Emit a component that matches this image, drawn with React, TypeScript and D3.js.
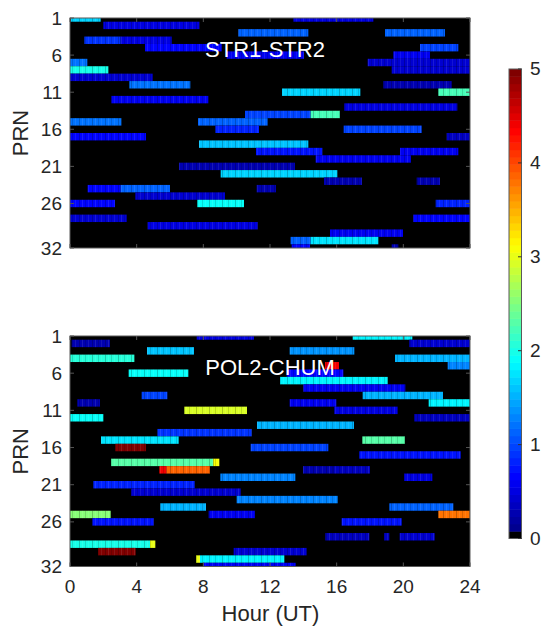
import * as d3 from 'd3';

const prnTicks = [1, 6, 11, 16, 21, 26, 32];
const hourTicks = [0, 4, 8, 12, 16, 20, 24];
const cbarTicks = [0, 1, 2, 3, 4, 5];

// [PRN, start hour, end hour, value]
const str1Str2: number[][] = [
  [1, 0.06, 1.84, 1.7], [1, 13.4, 18.2, 0.5],
  [2, 2.0, 7.76, 0.5],
  [3, 10.1, 14.3, 1.1], [3, 18.9, 22.5, 1.1],
  [4, 0.86, 3.04, 0.9], [4, 3.04, 6.1, 0.5],
  [5, 4.5, 9.1, 0.65], [5, 21.0, 23.3, 1.0],
  [6, 9.4, 14.04, 0.55], [6, 19.4, 21.6, 0.6],
  [7, 0, 1.04, 1.2], [7, 17.86, 24, 0.45],
  [8, 0, 2.3, 2.0], [8, 19.3, 24, 0.4],
  [9, 0, 4.96, 0.45],
  [10, 3.56, 7.22, 1.2], [10, 18.8, 22.9, 0.25],
  [11, 12.72, 17.42, 1.7], [11, 22.1, 24, 2.2],
  [12, 2.48, 8.3, 0.55],
  [13, 16.46, 23.24, 0.5],
  [14, 10.5, 14.44, 1.0], [14, 14.44, 16.2, 2.2],
  [15, 0, 3.08, 1.2], [15, 7.68, 11.86, 1.1],
  [16, 8.72, 11.34, 0.8], [16, 16.42, 21.1, 0.95],
  [17, 0, 4.56, 0.7], [17, 22.6, 24, 0.35],
  [18, 7.74, 14.3, 1.6],
  [19, 11.16, 15.14, 0.75], [19, 19.8, 23.3, 0.55],
  [20, 14.74, 20.46, 0.55],
  [21, 6.54, 13.5, 0.25],
  [22, 9.04, 16.04, 1.65],
  [23, 15.24, 17.52, 0.3], [23, 20.8, 22.2, 0.3],
  [24, 1.06, 3.04, 0.7], [24, 3.04, 6.0, 1.15], [24, 11.2, 12.36, 0.3],
  [25, 3.92, 9.3, 0.45],
  [26, 0, 2.7, 0.7], [26, 7.64, 10.44, 1.95], [26, 21.94, 24, 0.85],
  [28, 0, 3.4, 0.4], [28, 20.6, 24, 0.7],
  [29, 4.66, 11.26, 0.5],
  [30, 15.6, 19.98, 0.55],
  [31, 13.24, 14.44, 1.1], [31, 14.44, 18.5, 1.75],
  [32, 13.3, 14.4, 0.7], [32, 19.3, 19.7, 0.3],
];

const pol2Chum: number[][] = [
  [1, 7.6, 11.04, 0.5], [1, 16.96, 20.54, 1.85],
  [2, 0.1, 2.4, 0.25], [2, 20.36, 24, 0.4],
  [3, 4.62, 7.44, 1.6], [3, 13.18, 17.06, 1.4],
  [4, 0, 3.86, 2.1], [4, 19.5, 24, 1.5],
  [5, 15.3, 16.14, 4.4], [5, 22.66, 24, 1.3],
  [6, 3.52, 7.1, 1.9], [6, 13, 16.4, 0.65],
  [7, 12.6, 19.06, 1.85],
  [8, 14, 20.12, 0.55],
  [9, 4.3, 5.84, 1.0], [9, 17.56, 22.38, 1.5],
  [10, 0.44, 1.8, 0.25], [10, 13.18, 15.98, 0.55], [10, 21.52, 24, 1.8],
  [11, 6.86, 10.62, 2.9], [11, 15.86, 19.66, 0.5],
  [12, 0, 2.0, 1.9], [12, 20.66, 24, 0.35],
  [13, 11.22, 17.04, 1.55],
  [14, 5.24, 10.9, 0.9],
  [15, 1.86, 6.52, 1.75], [15, 17.54, 20.1, 2.3],
  [16, 2.72, 4.56, 5], [16, 10.84, 15.5, 1.0],
  [17, 17.36, 23.44, 0.75],
  [18, 2.46, 8.6, 2.3], [18, 8.6, 8.96, 3.1],
  [19, 5.36, 5.8, 4.4], [19, 5.8, 8.4, 3.9], [19, 13.98, 15.8, 0.25], [19, 15.8, 18, 0.35],
  [20, 9.02, 13.52, 1.3], [20, 20.04, 21.74, 0.5],
  [21, 1.4, 7.48, 0.85],
  [22, 3.66, 10.24, 0.45],
  [23, 10, 16.06, 1.3],
  [24, 5.42, 8.16, 1.55], [24, 19.16, 23, 1.1],
  [25, 0, 2.44, 2.5], [25, 8.32, 11.1, 0.55], [25, 22.1, 24, 3.8],
  [26, 1.34, 5.02, 0.75], [26, 16.3, 19.9, 0.75],
  [28, 15.32, 17.96, 0.35], [28, 18.84, 19.16, 0.35], [28, 19.78, 21.88, 0.4],
  [29, 0, 4.8, 2.0], [29, 4.8, 5.12, 3.0],
  [30, 1.68, 3.94, 5], [30, 9.82, 14.2, 0.4],
  [31, 7.56, 7.8, 3.0], [31, 7.8, 12.86, 1.8],
  [32, 8, 13.54, 0.6],
];

const FONT = "'Liberation Sans', Arial, Helvetica, sans-serif";
const LEVELS = 64;

// jet colormap, first level black
function jet(v: number) {
  const t = Math.max(0, Math.min(1, v / 5));
  const idx = Math.min(LEVELS - 1, Math.floor(t * LEVELS));
  if (idx === 0) return '#000';
  const s = idx / (LEVELS - 1);
  const c = (x: number) => Math.round(255 * Math.max(0, Math.min(1, 1.5 - Math.abs(x))));
  return d3.rgb(c(4 * s - 3), c(4 * s - 2), c(4 * s - 1)).formatHex();
}

const x = d3.scaleLinear().domain([0, 24]).range([70, 470]);

const panels = [
  { title: 'STR1-STR2', top: 18, bottom: 248, data: str1Str2, showX: false, titleX: 265, titleY: 57 },
  { title: 'POL2-CHUM', top: 336, bottom: 566.5, data: pol2Chum, showX: true, titleX: 270, titleY: 375 },
];

const cbar = d3.scaleLinear().domain([0, 5]).range([538.5, 69]);
const cbarLevels = d3.range(LEVELS);

function Panel({ p, idx }: { p: typeof panels[0]; idx: number }) {
  const y = d3.scaleLinear().domain([1, 32]).range([p.top, p.bottom]);
  const [x0, x1] = x.range();
  const clipId = `clip${idx}`;
  return (
    <g>
      <defs>
        <clipPath id={clipId}>
          <rect x={x0} y={p.top} width={x1 - x0} height={p.bottom - p.top} />
        </clipPath>
      </defs>
      <rect x={x0} y={p.top} width={x1 - x0} height={p.bottom - p.top} fill="#000" />
      <g clipPath={`url(#${clipId})`}>
        {p.data.map(([prn, s, e, v], i) => (
          <rect
            key={i}
            x={x(s)}
            y={y(prn - 0.5)}
            width={x(e) - x(s)}
            height={y(prn + 0.5) - y(prn - 0.5)}
            fill={jet(v)}
          />
        ))}
        <g>
          {p.data.map(([prn, s, e], i) => (
            <rect
              key={i}
              x={x(s)}
              y={y(prn - 0.5)}
              width={x(e) - x(s)}
              height={y(prn + 0.5) - y(prn - 0.5)}
              fill="url(#stripes)"
            />
          ))}
        </g>
      </g>
      {/* ticks inside the box */}
      {prnTicks.map((t) => (
        <g key={t}>
          <line x1={x0} x2={x0 + 4} y1={y(t)} y2={y(t)} stroke="#555" />
          <line x1={x1 - 4} x2={x1} y1={y(t)} y2={y(t)} stroke="#555" />
          <text
            x={62}
            y={y(t) + 1.5}
            textAnchor="end"
            dominantBaseline="middle"
            fontSize={19}
            fill="#262626"
          >
            {t}
          </text>
        </g>
      ))}
      {hourTicks.map((t) => (
        <g key={t}>
          <line x1={x(t)} x2={x(t)} y1={p.bottom} y2={p.bottom - 4} stroke="#555" />
          <line x1={x(t)} x2={x(t)} y1={p.top} y2={p.top + 4} stroke="#555" />
          {p.showX && (
            <text x={x(t)} y={593} textAnchor="middle" fontSize={19} fill="#262626">
              {t}
            </text>
          )}
        </g>
      ))}
      <rect
        x={x0}
        y={p.top}
        width={x1 - x0}
        height={p.bottom - p.top}
        fill="none"
        stroke="#5a5a5a"
        strokeWidth={1}
      />
      <text x={p.titleX} y={p.titleY} textAnchor="middle" fontSize={22} fill="#fff">
        {p.title}
      </text>
      <text
        transform={`translate(28,${(p.top + p.bottom) / 2}) rotate(-90)`}
        textAnchor="middle"
        fontSize={22}
        fill="#262626"
      >
        PRN
      </text>
    </g>
  );
}

export default function App() {
  const step = (cbar(0) - cbar(5)) / LEVELS;
  return (
    <svg
      width={546}
      height={626}
      style={{ position: 'absolute', left: 0, top: 0, background: '#fff' }}
      fontFamily={FONT}
    >
      <defs>
        <pattern id="stripes" width={13} height={10} patternUnits="userSpaceOnUse">
          <rect x={1} y={0} width={1} height={10} fill="#000" opacity={0.22} />
          <rect x={4} y={0} width={1} height={10} fill="#fff" opacity={0.1} />
          <rect x={7} y={0} width={1} height={10} fill="#000" opacity={0.15} />
          <rect x={10} y={0} width={1} height={10} fill="#fff" opacity={0.08} />
        </pattern>
      </defs>
      {panels.map((p, i) => (
        <Panel key={p.title} p={p} idx={i} />
      ))}
      <text x={270.5} y={621} textAnchor="middle" fontSize={22} fill="#262626">
        Hour (UT)
      </text>
      {/* colorbar */}
      {cbarLevels.map((l) => (
        <rect
          key={l}
          x={509}
          y={cbar(0) - (l + 1) * step}
          width={12.5}
          height={step + 0.5}
          fill={jet(((l + 0.5) / LEVELS) * 5)}
        />
      ))}
      <rect x={509} y={69} width={12.5} height={cbar(0) - 69} fill="none" stroke="#5a5a5a" />
      {cbarTicks.map((t) => (
        <g key={t}>
          <line x1={518} x2={521.5} y1={cbar(t)} y2={cbar(t)} stroke="#333" />
          <text x={530} y={cbar(t) + 1} dominantBaseline="middle" fontSize={19} fill="#262626">
            {t}
          </text>
        </g>
      ))}
    </svg>
  );
}
